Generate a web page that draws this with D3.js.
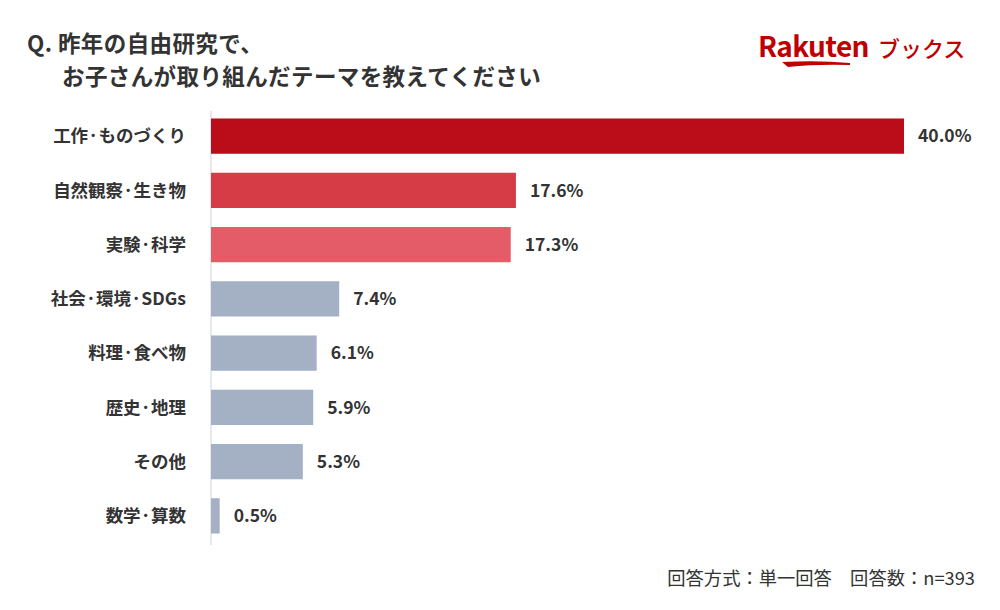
<!DOCTYPE html>
<html>
<head>
<meta charset="utf-8">
<script src="https://cdn.jsdelivr.net/npm/d3@7"></script>
<style>
  body { margin: 0; background: #fff; }
  text { font-family: "Noto Sans CJK JP", "Noto Sans", sans-serif; }
</style>
</head>
<body>
<div id="chart"></div>
<script>
// Data
const categories = ['工作·ものづくり', '自然観察·生き物', '実験·科学', '社会·環境·SDGs', '料理·食べ物', '歴史·地理', 'その他', '数学·算数'];
const values = [40.0, 17.6, 17.3, 7.4, 6.1, 5.9, 5.3, 0.5];
const barColors = ['#bb0d19', '#d63c46', '#e45c68', '#a4b0c3', '#a4b0c3', '#a4b0c3', '#a4b0c3', '#a4b0c3'];
const titleLines = ['Q. 昨年の自由研究で、', 'お子さんが取り組んだテーマを教えてください'];
const footnote = '回答方式：単一回答　回答数：n=393';

const width = 1000, height = 610;
const svg = d3.select('#chart').append('svg')
  .attr('width', width).attr('height', height)
  .attr('viewBox', `0 0 ${width} ${height}`);

// Scales
const x = d3.scaleLinear().domain([0, 40]).range([211, 904]);
const y = d3.scaleBand().domain(categories).range([109, 543]).paddingInner(0.35).paddingOuter(0.175);

// Title
svg.append('text').attr('x', 27).attr('y', 52)
  .attr('font-size', 22.5).attr('font-weight', 700).attr('fill', '#333')
  .attr('letter-spacing', 0.4)
  .text(titleLines[0]);
svg.append('text').attr('x', 62).attr('y', 85)
  .attr('font-size', 22.5).attr('font-weight', 700).attr('fill', '#333')
  .attr('letter-spacing', 0.4)
  .text(titleLines[1]);

// Logo
const logo = svg.append('g').attr('transform', 'translate(758,57)');
logo.append('text').attr('x', 0).attr('y', 0)
  .attr('font-family', 'Roboto, "Noto Sans", sans-serif')
  .attr('font-size', 28).attr('font-weight', 700).attr('fill', '#bf0000')
  .attr('letter-spacing', -0.6)
  .text('Rakuten');
logo.append('text').attr('x', 120).attr('y', 0)
  .attr('font-size', 22).attr('font-weight', 500).attr('fill', '#bf0000')
  .text('ブックス');
logo.append('path')
  .attr('d', 'M24,5 Q60,3 92,6 L92,8 Q58,7 30,10 Z')
  .attr('fill', '#bf0000');

// Axis line
svg.append('line')
  .attr('x1', x(0)).attr('x2', x(0))
  .attr('y1', 111).attr('y2', 545)
  .attr('stroke', '#dde3ea').attr('stroke-width', 1.5);

// Bars
const rows = categories.map((c, i) => ({ c, v: values[i], color: barColors[i] }));
svg.append('g').selectAll('rect').data(rows).join('rect')
  .attr('x', x(0)).attr('y', d => y(d.c))
  .attr('width', d => x(d.v) - x(0))
  .attr('height', y.bandwidth())
  .attr('fill', d => d.color);

// Category labels
svg.append('g').selectAll('text').data(rows).join('text')
  .attr('x', 186).attr('y', d => y(d.c) + y.bandwidth() / 2)
  .attr('dy', '0.36em').attr('text-anchor', 'end')
  .attr('font-size', 17.5).attr('font-weight', 700).attr('fill', '#333')
  .text(d => d.c);

// Value labels
svg.append('g').selectAll('text').data(rows).join('text')
  .attr('x', d => x(d.v) + 14).attr('y', d => y(d.c) + y.bandwidth() / 2)
  .attr('dy', '0.36em')
  .attr('font-size', 17.5).attr('font-weight', 700).attr('fill', '#333')
  .text(d => d.v.toFixed(1) + '%');

// Footnote
svg.append('text').attr('x', 975).attr('y', 585)
  .attr('text-anchor', 'end')
  .attr('font-size', 18.3).attr('fill', '#333')
  .text(footnote);
</script>
</body>
</html>
